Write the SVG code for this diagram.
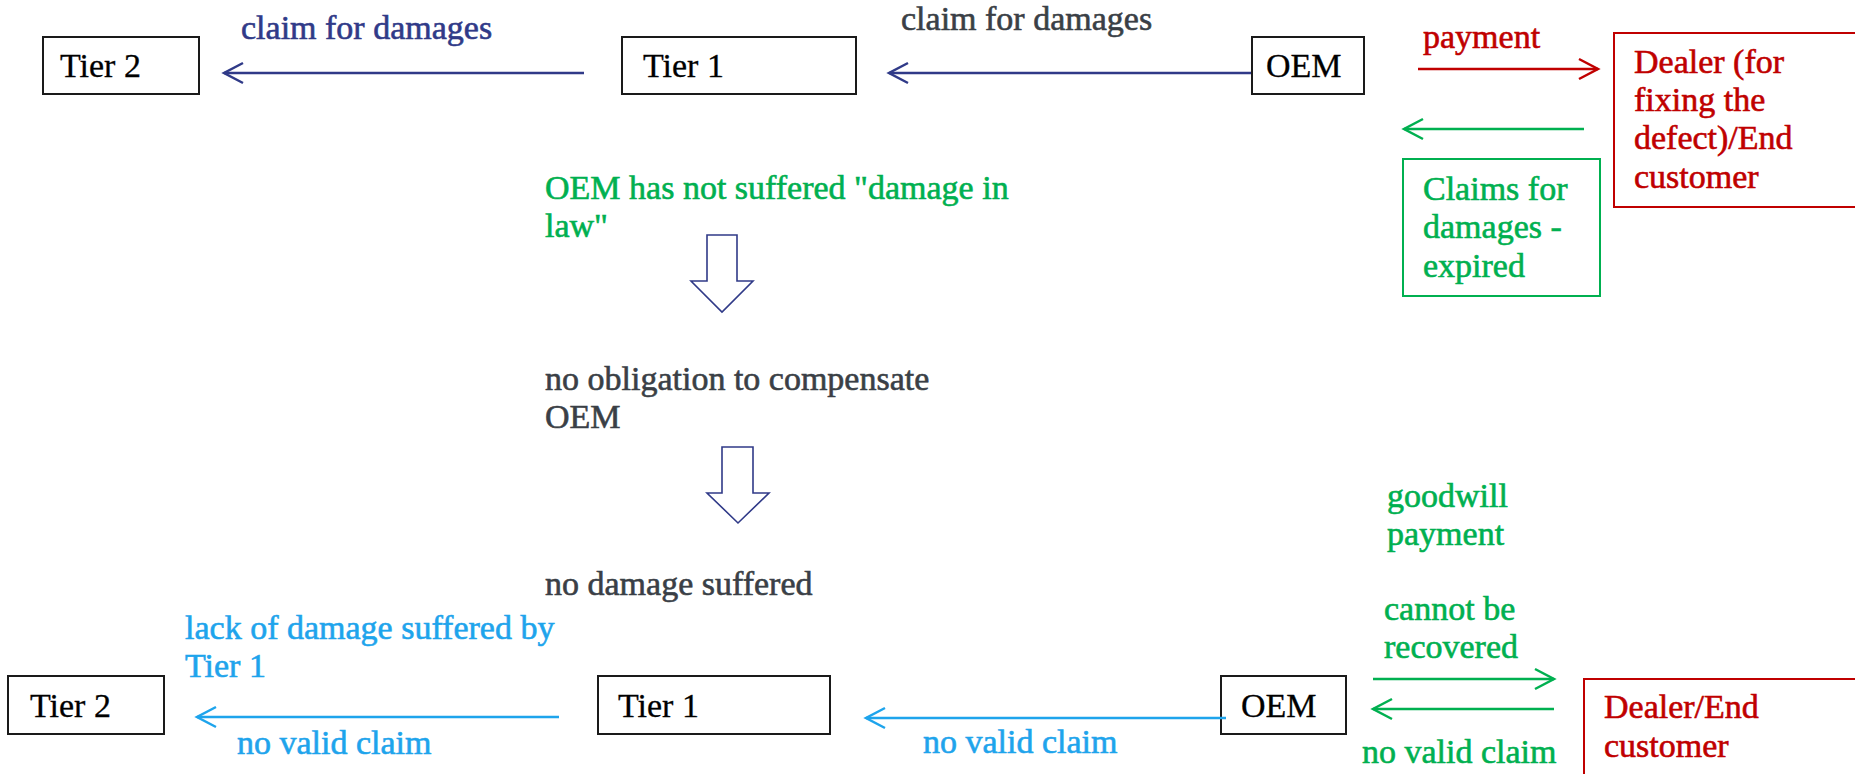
<svg xmlns="http://www.w3.org/2000/svg" width="1855" height="774" viewBox="0 0 1855 774">
  <style>
    text { font-family: "Liberation Serif", "Times New Roman", serif; font-size: 34px; stroke-width: 0.6; }
    .box { fill: #ffffff; stroke: #1a1a1a; stroke-width: 2; }
    .lbl { fill: #000000; stroke: #000000; stroke-width: 0.3; }
    .navy { fill: #303A88; stroke: #303A88; }
    .gray { fill: #3A3F46; stroke: #3A3F46; }
    .green { fill: #00B050; stroke: #00B050; }
    .red { fill: #C00000; stroke: #C00000; }
    .blue { fill: #1EA4EC; stroke: #1EA4EC; }
    .ln { fill: none; stroke-width: 2.5; }
    .hollow { fill: #ffffff; stroke: #303A88; stroke-width: 1.6; stroke-linejoin: miter; }
  </style>
  <defs>
    <marker id="ah-navy" markerUnits="userSpaceOnUse" markerWidth="30" markerHeight="30" viewBox="-24 -15 30 30" refX="0" refY="0" orient="auto" overflow="visible">
      <path d="M-19,-10 L0,0 L-19,10" fill="none" stroke="#303A88" stroke-width="2.5"/>
    </marker>
    <marker id="ah-red" markerUnits="userSpaceOnUse" markerWidth="30" markerHeight="30" viewBox="-24 -15 30 30" refX="0" refY="0" orient="auto" overflow="visible">
      <path d="M-19,-10 L0,0 L-19,10" fill="none" stroke="#C00000" stroke-width="2.5"/>
    </marker>
    <marker id="ah-green" markerUnits="userSpaceOnUse" markerWidth="30" markerHeight="30" viewBox="-24 -15 30 30" refX="0" refY="0" orient="auto" overflow="visible">
      <path d="M-19,-10 L0,0 L-19,10" fill="none" stroke="#00B050" stroke-width="2.5"/>
    </marker>
    <marker id="ah-blue" markerUnits="userSpaceOnUse" markerWidth="30" markerHeight="30" viewBox="-24 -15 30 30" refX="0" refY="0" orient="auto" overflow="visible">
      <path d="M-19,-10 L0,0 L-19,10" fill="none" stroke="#1EA4EC" stroke-width="2.5"/>
    </marker>
  </defs>

  <rect width="1855" height="774" fill="#ffffff"/>

  <!-- upper scenario: claims along the supply chain -->
  <g id="top-tier2">
    <rect class="box" x="43" y="37" width="156" height="57"/>
    <text class="lbl" x="60" y="77">Tier 2</text>
  </g>
  <g id="top-tier1">
    <rect class="box" x="622" y="37" width="234" height="57"/>
    <text class="lbl" x="643" y="77">Tier 1</text>
  </g>
  <g id="top-oem">
    <rect class="box" x="1252" y="37" width="112" height="57"/>
    <text class="lbl" x="1266" y="77">OEM</text>
  </g>
  <g id="top-dealer">
    <rect fill="#ffffff" stroke="#C00000" stroke-width="2" x="1614" y="33" width="260" height="174"/>
    <text class="red" x="1634" y="73">Dealer (for</text>
    <text class="red" x="1634" y="111">fixing the</text>
    <text class="red" x="1634" y="149">defect)/End</text>
    <text class="red" x="1634" y="188">customer</text>
  </g>
  <g id="top-expired">
    <rect fill="#ffffff" stroke="#00B050" stroke-width="2" x="1403" y="159" width="197" height="137"/>
    <text class="green" x="1423" y="200">Claims for</text>
    <text class="green" x="1423" y="238">damages -</text>
    <text class="green" x="1423" y="277">expired</text>
  </g>

  <!-- chain of reasoning in the middle -->
  <g id="mid-no-damage-in-law">
    <text class="green" x="545" y="199">OEM has not suffered "damage in</text>
    <text class="green" x="545" y="237">law"</text>
  </g>
  <g id="mid-no-obligation">
    <text class="gray" x="545" y="390">no obligation to compensate</text>
    <text class="gray" x="545" y="428">OEM</text>
  </g>
  <g id="mid-no-damage">
    <text class="gray" x="545" y="595">no damage suffered</text>
  </g>

  <!-- lower scenario: goodwill payment -->
  <g id="bot-tier2">
    <rect class="box" x="8" y="676" width="156" height="58"/>
    <text class="lbl" x="30" y="717">Tier 2</text>
  </g>
  <g id="bot-tier1">
    <rect class="box" x="598" y="676" width="232" height="58"/>
    <text class="lbl" x="618" y="717">Tier 1</text>
  </g>
  <g id="bot-oem">
    <rect class="box" x="1221" y="676" width="125" height="58"/>
    <text class="lbl" x="1241" y="717">OEM</text>
  </g>
  <g id="bot-dealer">
    <rect fill="#ffffff" stroke="#C00000" stroke-width="2" x="1584" y="679" width="300" height="120"/>
    <text class="red" x="1604" y="718">Dealer/End</text>
    <text class="red" x="1604" y="757">customer</text>
  </g>
  <g id="bot-goodwill">
    <text class="green" x="1387" y="507">goodwill</text>
    <text class="green" x="1387" y="545">payment</text>
  </g>

  <!-- connectors and their labels -->
  <g id="connectors">
    <line class="ln" stroke="#303A88" x1="584" y1="73" x2="224" y2="73" marker-end="url(#ah-navy)"/>
    <text class="navy" x="241" y="39">claim for damages</text>
    <line class="ln" stroke="#303A88" x1="1251" y1="73" x2="889" y2="73" marker-end="url(#ah-navy)"/>
    <text class="gray" x="901" y="30">claim for damages</text>

    <line class="ln" stroke="#C00000" x1="1418" y1="69" x2="1598" y2="69" marker-end="url(#ah-red)"/>
    <text class="red" x="1423" y="48">payment</text>
    <line class="ln" stroke="#00B050" x1="1584" y1="129" x2="1404" y2="129" marker-end="url(#ah-green)"/>

    <polygon class="hollow" points="707,235 737,235 737,281 753,281 722,312 691,281 707,281"/>
    <polygon class="hollow" points="722,447 753,447 753,493 769,493 738,523 707,493 722,493"/>

    <line class="ln" stroke="#1EA4EC" x1="559" y1="717" x2="197" y2="717" marker-end="url(#ah-blue)"/>
    <text class="blue" x="185" y="639">lack of damage suffered by</text>
    <text class="blue" x="185" y="677">Tier 1</text>
    <text class="blue" x="237" y="754">no valid claim</text>
    <line class="ln" stroke="#1EA4EC" x1="1226" y1="718" x2="866" y2="718" marker-end="url(#ah-blue)"/>
    <text class="blue" x="923" y="753">no valid claim</text>

    <line class="ln" stroke="#00B050" x1="1373" y1="679" x2="1554" y2="679" marker-end="url(#ah-green)"/>
    <text class="green" x="1384" y="620">cannot be</text>
    <text class="green" x="1384" y="658">recovered</text>
    <line class="ln" stroke="#00B050" x1="1554" y1="709" x2="1373" y2="709" marker-end="url(#ah-green)"/>
    <text class="green" x="1362" y="763">no valid claim</text>
  </g>
</svg>
